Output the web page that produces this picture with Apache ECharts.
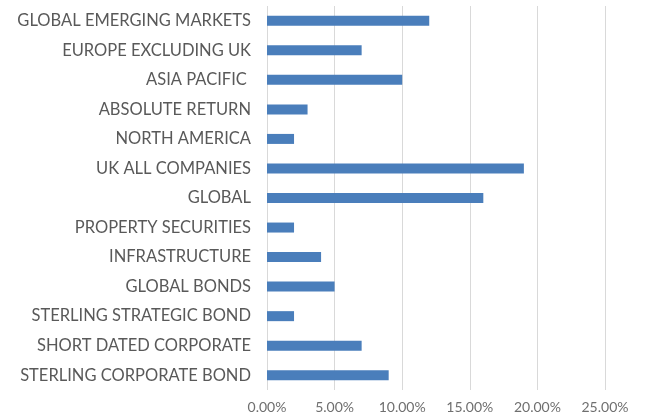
<!DOCTYPE html>
<html><head><meta charset="utf-8">
<script src="https://cdn.jsdelivr.net/npm/echarts@6/dist/echarts.min.js"></script>
<style>html,body{margin:0;padding:0;background:#fff}#c{width:645px;height:416px}</style>
</head><body><div id="c"></div>
<script>
const categories = ["GLOBAL EMERGING MARKETS","EUROPE EXCLUDING UK","ASIA PACIFIC ","ABSOLUTE RETURN","NORTH AMERICA","UK ALL COMPANIES","GLOBAL","PROPERTY SECURITIES","INFRASTRUCTURE","GLOBAL BONDS","STERLING STRATEGIC BOND","SHORT DATED CORPORATE","STERLING CORPORATE BOND"];
const values = [12,7,10,3,2,19,16,2,4,5,2,7,9];
const xTicks = [0,5,10,15,20,25];

const chart = echarts.init(document.getElementById('c'));
chart.setOption({
  animation:false,
  grid:{left:267,right:40,top:6,bottom:26,containLabel:false},
  xAxis:{type:'value',min:xTicks[0],max:xTicks[xTicks.length-1],interval:5,
    axisLine:{show:false},axisTick:{show:false},
    splitLine:{lineStyle:{color:'#d9d9d9',width:1}},
    axisLabel:{formatter:v=>v.toFixed(2)+'%',color:'#6f6f6f',fontFamily:'Lato',fontSize:14,margin:10}},
  yAxis:{type:'category',data:categories,inverse:true,
    axisLine:{show:false},axisTick:{show:false},
    axisLabel:{color:'#595959',fontFamily:'Lato',fontSize:16.5,margin:16}},
  series:[{type:'bar',data:values,barWidth:10,itemStyle:{color:'#4a7ebb'}}]
});
</script></body></html>
